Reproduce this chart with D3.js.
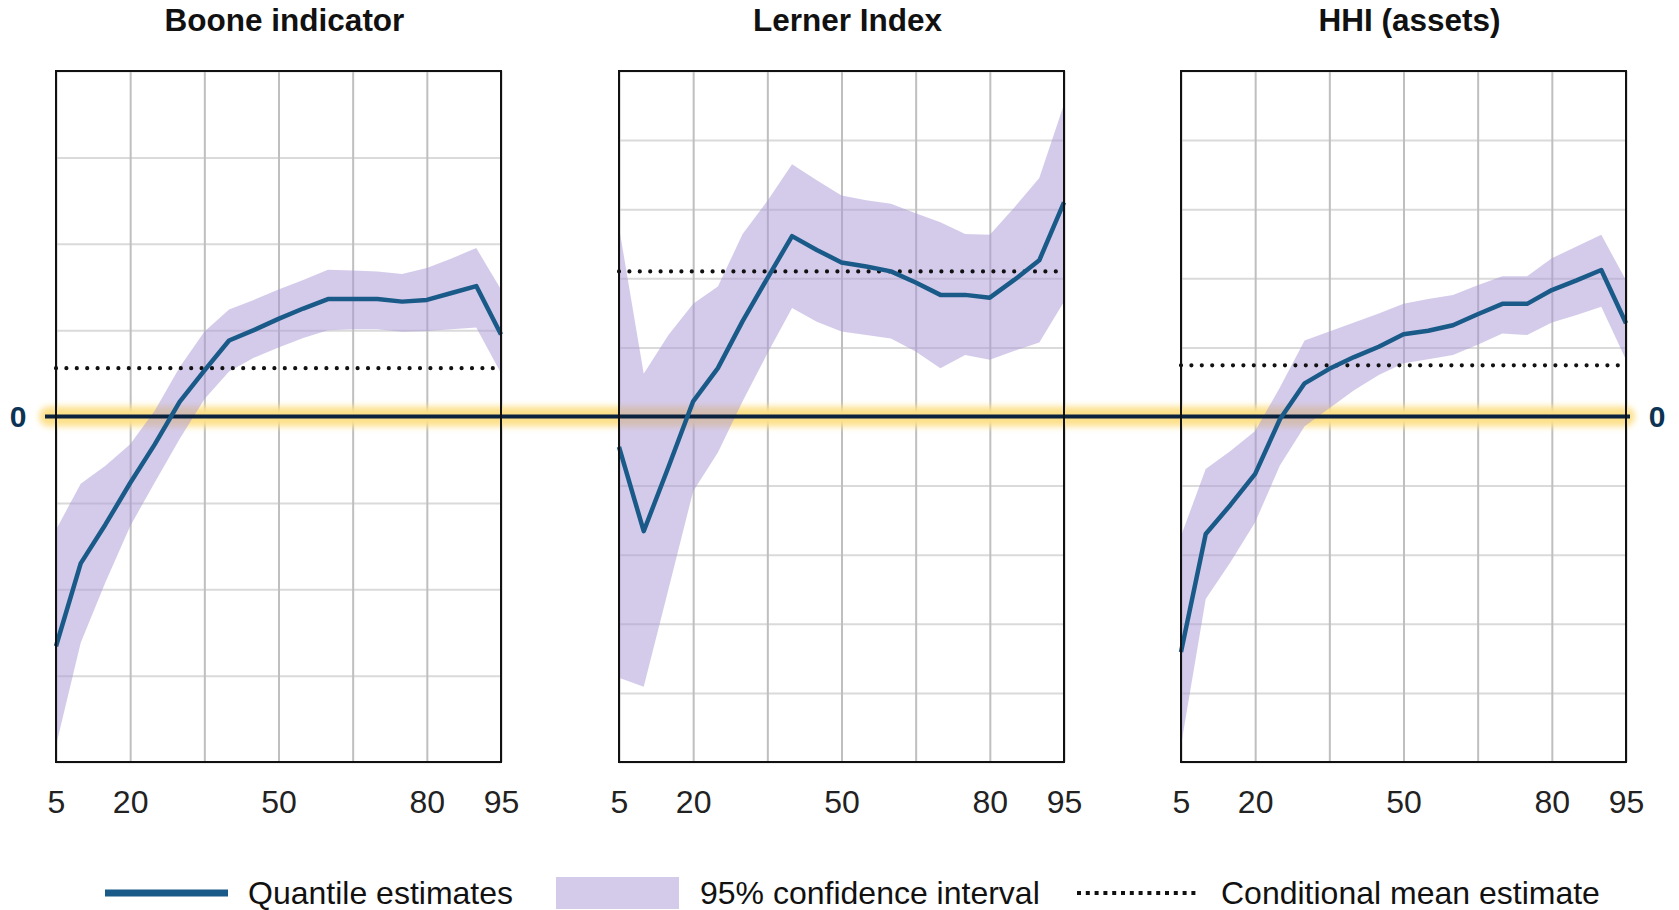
<!DOCTYPE html>
<html>
<head>
<meta charset="utf-8">
<script src="https://cdn.jsdelivr.net/npm/d3@7/dist/d3.min.js"></script>
<style>
  html, body { margin: 0; padding: 0; background: #fff; }
  svg { display: block; font-family: "Liberation Sans", Arial, sans-serif; }
</style>
</head>
<body>
<svg id="chart" width="1679" height="910"></svg>
<script>
// ---------------- DATA ----------------
const quantiles = [5,10,15,20,25,30,35,40,45,50,55,60,65,70,75,80,85,90,95];
const xTickLabels = [5,20,50,80,95];
const xGrid = [5,20,35,50,65,80,95];

const panelTitles = ["Boone indicator", "Lerner Index", "HHI (assets)"];

const booneEst = [-2.66,-1.70,-1.25,-0.77,-0.32,0.17,0.53,0.88,1.00,1.13,1.25,1.36,1.36,1.36,1.33,1.35,1.43,1.51,0.95];
const booneLo  = [-3.81,-2.62,-1.92,-1.27,-0.76,-0.26,0.20,0.52,0.68,0.80,0.91,1.00,1.01,1.01,0.98,0.99,1.01,1.03,0.50];
const booneHi  = [-1.31,-0.78,-0.57,-0.32,0.07,0.57,0.98,1.24,1.35,1.47,1.58,1.70,1.69,1.68,1.65,1.72,1.83,1.95,1.47];
const booneMean = 0.56;

const lernerEst = [-0.44,-1.66,-0.73,0.22,0.70,1.38,2.00,2.61,2.41,2.23,2.17,2.10,1.94,1.76,1.76,1.72,1.98,2.26,3.10];
const lernerLo  = [-3.78,-3.91,-2.50,-1.08,-0.52,0.22,0.91,1.57,1.37,1.23,1.18,1.13,0.94,0.70,0.89,0.82,0.95,1.07,1.66];
const lernerHi  = [2.74,0.62,1.18,1.63,1.88,2.64,3.12,3.65,3.42,3.20,3.13,3.08,2.94,2.81,2.64,2.63,3.03,3.45,4.52];
const lernerMean = 2.10;

const hhiEst = [-3.41,-1.70,-1.28,-0.83,-0.04,0.48,0.69,0.86,1.01,1.19,1.24,1.32,1.48,1.63,1.63,1.83,1.97,2.12,1.35];
const hhiLo  = [-4.76,-2.64,-2.11,-1.53,-0.71,-0.14,0.12,0.38,0.60,0.77,0.83,0.89,1.04,1.20,1.18,1.36,1.47,1.59,0.82];
const hhiHi  = [-1.73,-0.76,-0.50,-0.21,0.42,1.10,1.23,1.36,1.49,1.63,1.70,1.76,1.90,2.03,2.03,2.29,2.46,2.63,1.97];
const hhiMean = 0.74;

const yDomains = [[-4,4],[-5,5],[-5,5]];

const legendLabels = ["Quantile estimates", "95% confidence interval", "Conditional mean estimate"];

// ---------------- LAYOUT ----------------
const svg = d3.select("#chart");
const plotTop = 71, plotBottom = 762;
const panelLefts = [56, 619, 1181];
const panelW = 445;
const colLine = "#1a5a88";
const colBand = "#a997d7";

const panels = [
  {title: panelTitles[0], est: booneEst, lo: booneLo, hi: booneHi, mean: booneMean, dom: yDomains[0]},
  {title: panelTitles[1], est: lernerEst, lo: lernerLo, hi: lernerHi, mean: lernerMean, dom: yDomains[1]},
  {title: panelTitles[2], est: hhiEst, lo: hhiLo, hi: hhiHi, mean: hhiMean, dom: yDomains[2]}
];

const defs = svg.append("defs");
defs.append("filter").attr("id","glow").attr("x","-5%").attr("y","-200%").attr("width","110%").attr("height","500%")
  .append("feGaussianBlur").attr("stdDeviation", 3);

const yZero = d3.scaleLinear().domain(yDomains[0]).range([plotBottom, plotTop])(0);

const layerGrid = svg.append("g");
const layerGlow = svg.append("g");
const layerBand = svg.append("g");
const layerData = svg.append("g");

panels.forEach((p, i) => {
  const x = d3.scaleLinear().domain([5,95]).range([panelLefts[i], panelLefts[i] + panelW]);
  const y = d3.scaleLinear().domain(p.dom).range([plotBottom, plotTop]);
  const g = layerGrid.append("g");

  // horizontal gridlines
  const yt = d3.range(p.dom[0], p.dom[1] + 1, 1);
  g.append("g").attr("transform", `translate(${panelLefts[i]},0)`)
    .call(d3.axisLeft(y).tickValues(yt).tickSize(-panelW).tickFormat(""))
    .call(a => a.select(".domain").remove())
    .call(a => a.selectAll("line").attr("stroke", "#dadada").attr("stroke-width", 2));

  // vertical gridlines
  g.append("g").attr("transform", `translate(0,${plotBottom})`)
    .call(d3.axisBottom(x).tickValues(xGrid).tickSize(-(plotBottom - plotTop)).tickFormat(""))
    .call(a => a.select(".domain").remove())
    .call(a => a.selectAll("line").attr("stroke", "#bfbfbf").attr("stroke-width", 2));

  // x tick labels
  g.append("g").attr("transform", `translate(0,${plotBottom + 51})`)
    .call(d3.axisBottom(x).tickValues(xTickLabels).tickSize(0).tickPadding(0).tickFormat(d3.format("d")))
    .call(a => a.select(".domain").remove())
    .call(a => a.selectAll("text").attr("font-size", 32).attr("fill", "#222")
      .attr("font-family", "'Liberation Sans', Arial, sans-serif").attr("dy", 0));

  // title
  svg.append("text").attr("x", panelLefts[i] + panelW / 2 + 6).attr("y", 31)
    .attr("text-anchor", "middle").attr("font-size", 31.5).attr("font-weight", "bold")
    .attr("fill", "#111").text(p.title);

  const pts = quantiles.map((q, k) => ({q, est: p.est[k], lo: p.lo[k], hi: p.hi[k]}));

  layerBand.append("path").datum(pts)
    .attr("d", d3.area().x(v => x(v.q)).y0(v => y(v.lo)).y1(v => y(v.hi)))
    .attr("fill", colBand).attr("fill-opacity", 0.5);

  p._x = x; p._y = y; p._pts = pts;
});

// zero line glow
layerGlow.append("rect").attr("x", 39).attr("y", yZero - 10).attr("width", 1635 - 39).attr("height", 20)
  .attr("rx", 10).attr("fill", "#fde08a").attr("filter", "url(#glow)");

panels.forEach((p) => {
  const x = p._x, y = p._y;
  layerData.append("line").attr("x1", x(5)).attr("x2", x(95)).attr("y1", y(p.mean)).attr("y2", y(p.mean))
    .attr("stroke", "#111").attr("stroke-width", 4.2).attr("stroke-linecap", "round")
    .attr("stroke-dasharray", "0 10.4");
});

layerData.append("line").attr("x1", 45).attr("x2", 1630).attr("y1", yZero).attr("y2", yZero)
  .attr("stroke", "#0c2340").attr("stroke-width", 3.8);

panels.forEach((p, i) => {
  const x = p._x, y = p._y;
  layerData.append("path").datum(p._pts)
    .attr("d", d3.line().x(v => x(v.q)).y(v => y(v.est)))
    .attr("fill", "none").attr("stroke", colLine).attr("stroke-width", 4.5).attr("stroke-linejoin", "round");
  layerData.append("rect").attr("x", panelLefts[i]).attr("y", plotTop).attr("width", panelW).attr("height", plotBottom - plotTop)
    .attr("fill", "none").attr("stroke", "#111").attr("stroke-width", 2);
});

// zero labels
svg.append("text").attr("x", 18).attr("y", yZero).attr("dy", "0.36em").attr("text-anchor", "middle")
  .attr("font-size", 30).attr("font-weight", "bold").attr("fill", "#0c3354").text("0");
svg.append("text").attr("x", 1657).attr("y", yZero).attr("dy", "0.36em").attr("text-anchor", "middle")
  .attr("font-size", 30).attr("font-weight", "bold").attr("fill", "#0c3354").text("0");

// legend
const ly = 892;
const lg = svg.append("g");
lg.append("line").attr("x1", 105).attr("x2", 228).attr("y1", ly + 1).attr("y2", ly + 1)
  .attr("stroke", colLine).attr("stroke-width", 7);
lg.append("text").attr("x", 248).attr("y", ly).attr("dy", "0.36em").attr("font-size", 32).attr("fill", "#111").text(legendLabels[0]);
lg.append("rect").attr("x", 556).attr("y", 877).attr("width", 123).attr("height", 32)
  .attr("fill", colBand).attr("fill-opacity", 0.5);
lg.append("text").attr("x", 700).attr("y", ly).attr("dy", "0.36em").attr("font-size", 32).attr("fill", "#111").text(legendLabels[1]);
lg.append("line").attr("x1", 1077).attr("x2", 1199).attr("y1", ly + 1).attr("y2", ly + 1)
  .attr("stroke", "#111").attr("stroke-width", 4).attr("stroke-dasharray", "4 4.8");
lg.append("text").attr("x", 1221).attr("y", ly).attr("dy", "0.36em").attr("font-size", 32).attr("fill", "#111").text(legendLabels[2]);
</script>
</body>
</html>
